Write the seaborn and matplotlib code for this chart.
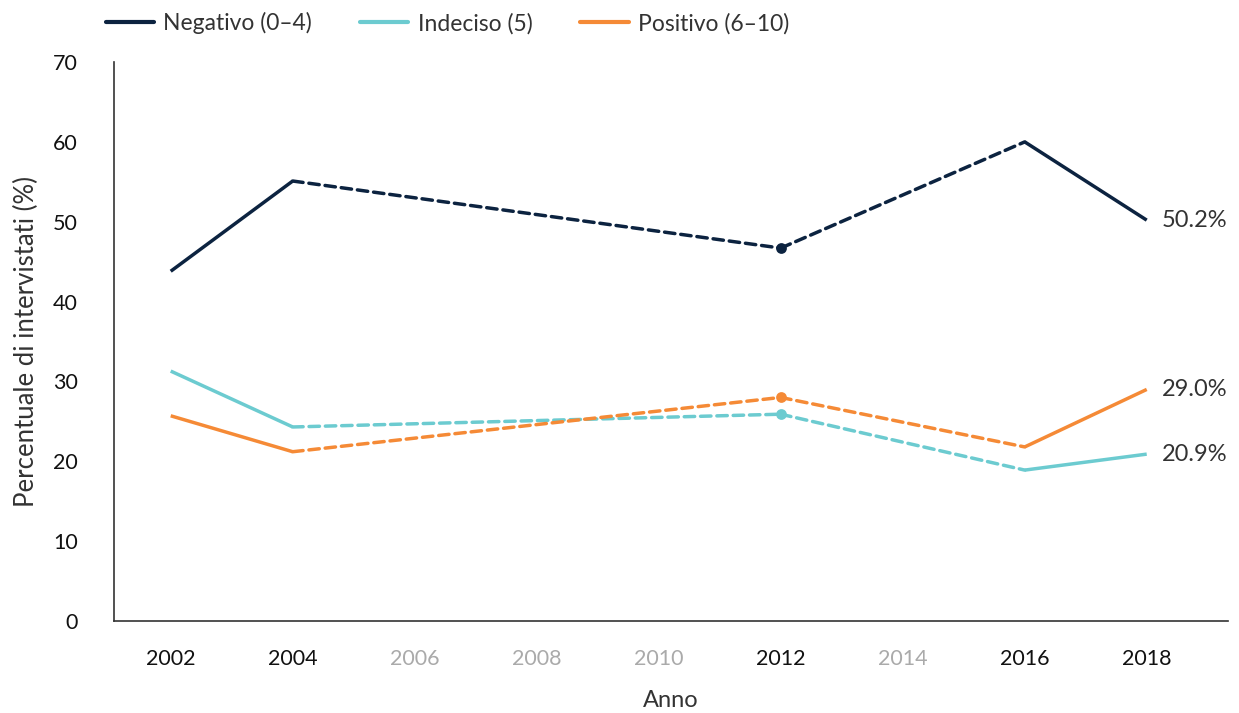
import numpy as np
import pandas as pd
import matplotlib
matplotlib.use("Agg")
import matplotlib.pyplot as plt
import seaborn as sns
from matplotlib.lines import Line2D

sns.set_theme(style="white")
plt.rcParams['font.family'] = ['Lato', 'DejaVu Sans']

years = [2002, 2004, 2012, 2016, 2018]
all_ticks = [2002, 2004, 2006, 2008, 2010, 2012, 2014, 2016, 2018]
series_names = ["Negativo (0–4)", "Indeciso (5)", "Positivo (6–10)"]
negativo = [43.8, 55.1, 46.7, 60.0, 50.2]
indeciso = [31.3, 24.3, 25.9, 18.9, 20.9]
positivo = [25.7, 21.2, 28.0, 21.8, 29.0]
end_labels = ["50.2%", "20.9%", "29.0%"]
colors = ["#0c2340", "#6ccbd0", "#f58a36"]

values = [negativo, indeciso, positivo]

fig = plt.figure(figsize=(12.39, 7.13), dpi=100)
ax = fig.add_axes([0.092, 0.129, 0.899, 0.784])

lw = 2.5
for name, vals, col, lab in zip(series_names, values, colors, end_labels):
    for i in range(len(years) - 1):
        seg = pd.DataFrame({"x": years[i:i + 2], "y": vals[i:i + 2]})
        gap = years[i + 1] - years[i] > 2
        sns.lineplot(data=seg, x="x", y="y", ax=ax, color=col, linewidth=lw,
                     linestyle=(0, (3, 1.7)) if gap else "-", legend=False,
                     solid_capstyle="butt", dash_capstyle="round")
    pts = [i for i in range(1, len(years) - 1)
           if years[i] - years[i - 1] > 2 and years[i + 1] - years[i] > 2]
    if pts:
        sns.scatterplot(x=[years[i] for i in pts], y=[vals[i] for i in pts], ax=ax,
                        color=col, s=60, edgecolor=col, linewidth=0, legend=False, zorder=5)
    ax.annotate(lab, xy=(years[-1], vals[-1]), xytext=(11, 0), textcoords="offset points",
                va="center", ha="left", fontsize=17, color="#333333")

ax.set_xlim(2001.07, 2019.33)
ax.set_ylim(0, 70)
ax.set_xticks(all_ticks)
ax.set_xticklabels([str(t) for t in all_ticks])
for t, lbl in zip(all_ticks, ax.get_xticklabels()):
    lbl.set_color("#111111" if t in years else "#aaaaaa")
ax.set_yticks(range(0, 71, 10))
ax.tick_params(axis="both", labelsize=15.5, length=0)
ax.tick_params(axis="x", pad=20)
ax.tick_params(axis="y", pad=26)
for l in ax.get_yticklabels():
    l.set_color("#111111")
ax.set_xlabel("Anno", fontsize=17, color="#333333", labelpad=15)
ax.set_ylabel("Percentuale di intervistati (%)", fontsize=18.5, color="#333333", labelpad=10)

for s in ["top", "right"]:
    ax.spines[s].set_visible(False)
for s in ["left", "bottom"]:
    ax.spines[s].set_color("#333333")
    ax.spines[s].set_linewidth(1.2)

handles = [Line2D([0], [0], color=c, lw=3) for c in colors]
leg = fig.legend(handles, series_names, loc="upper left", bbox_to_anchor=(0.069, 1.012),
                 ncol=3, frameon=False, handlelength=2.1, columnspacing=2.1,
                 handletextpad=0.4, prop={"size": 16.5})
for t in leg.get_texts():
    t.set_color("#333333")

fig.savefig("out.png", dpi=100)
